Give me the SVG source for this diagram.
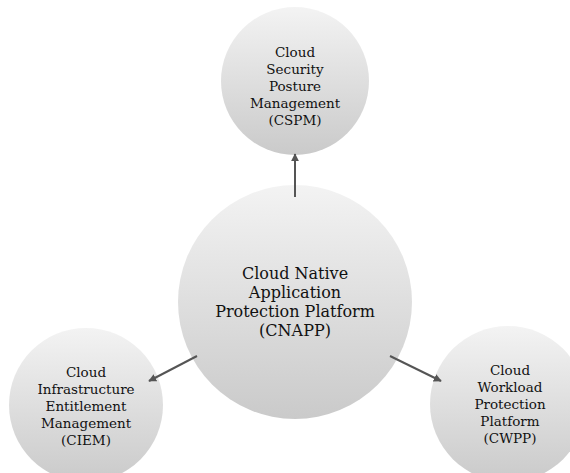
<svg xmlns="http://www.w3.org/2000/svg" width="570" height="473" viewBox="0 0 570 473">
<defs>
<linearGradient id="g" x1="0" y1="0" x2="0" y2="1">
<stop offset="0" stop-color="#f3f3f3"/>
<stop offset="1" stop-color="#cacaca"/>
</linearGradient>
<marker id="ah" viewBox="0 0 10 10" refX="9" refY="5" markerWidth="4" markerHeight="4" orient="auto" markerUnits="strokeWidth">
<path d="M0,0 L10,5 L0,10 z" fill="#555"/>
</marker>
</defs>
<style>
.c{fill:url(#g);}
.t{font-family:"DejaVu Serif","Liberation Serif",serif;fill:#111;text-anchor:middle;}
.s{font-size:13.5px;}
.b{font-size:16px;}
.a{stroke:#555;stroke-width:2;fill:none;marker-end:url(#ah);}
</style>
<rect width="570" height="473" fill="#fff"/>
<g id="cspm">
<circle class="c" cx="295" cy="81" r="74"/>
<text class="t s"><tspan x="295" y="57">Cloud</tspan><tspan x="295" y="74">Security</tspan><tspan x="295" y="91">Posture</tspan><tspan x="295" y="108">Management</tspan><tspan x="295" y="125">(CSPM)</tspan></text>
</g>
<g id="cnapp">
<circle class="c" cx="295" cy="302" r="117"/>
<text class="t b"><tspan x="295" y="279">Cloud Native</tspan><tspan x="295" y="298">Application</tspan><tspan x="295" y="317">Protection Platform</tspan><tspan x="295" y="336">(CNAPP)</tspan></text>
</g>
<g id="ciem">
<circle class="c" cx="86" cy="405" r="77"/>
<text class="t s"><tspan x="86" y="377">Cloud</tspan><tspan x="86" y="394">Infrastructure</tspan><tspan x="86" y="411">Entitlement</tspan><tspan x="86" y="428">Management</tspan><tspan x="86" y="445">(CIEM)</tspan></text>
</g>
<g id="cwpp">
<circle class="c" cx="508" cy="404" r="78"/>
<text class="t s"><tspan x="510" y="375">Cloud</tspan><tspan x="510" y="392">Workload</tspan><tspan x="510" y="409">Protection</tspan><tspan x="510" y="426">Platform</tspan><tspan x="510" y="443">(CWPP)</tspan></text>
</g>
<g id="connectors">
<line class="a" x1="295" y1="197" x2="295" y2="154"/>
<line class="a" x1="197" y1="356" x2="149" y2="381"/>
<line class="a" x1="390" y1="356" x2="441" y2="381"/>
</g>
</svg>
